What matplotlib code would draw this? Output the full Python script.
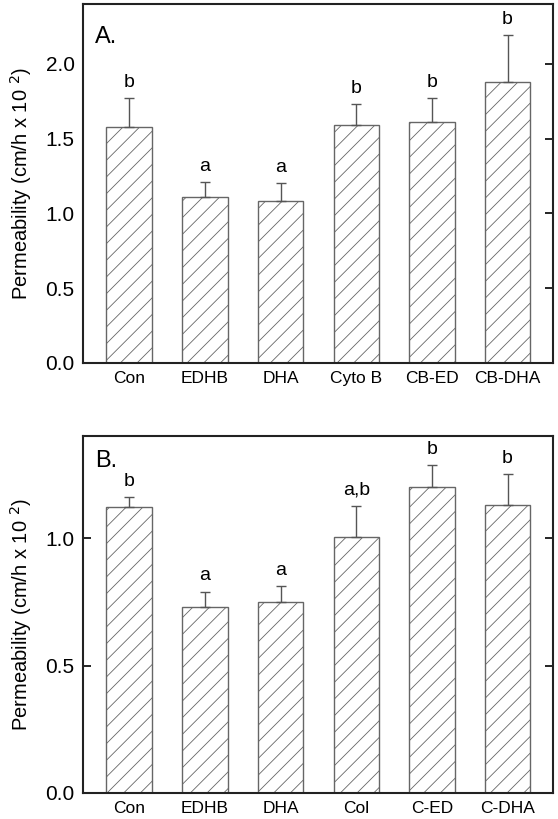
import matplotlib.pyplot as plt
import numpy as np

plt.rcParams['font.family'] = ['Liberation Sans', 'DejaVu Sans']
plt.rcParams['hatch.linewidth'] = 0.6
plt.rcParams['hatch.color'] = '#222222'

# Panel A data
labels_a = ["Con", "EDHB", "DHA", "Cyto B", "CB-ED", "CB-DHA"]
means_a = [1.58, 1.11, 1.08, 1.59, 1.61, 1.88]
errs_a = [0.19, 0.10, 0.12, 0.14, 0.16, 0.31]
letters_a = ["b", "a", "a", "b", "b", "b"]

# Panel B data
labels_b = ["Con", "EDHB", "DHA", "Col", "C-ED", "C-DHA"]
means_b = [1.12, 0.73, 0.75, 1.005, 1.20, 1.13]
errs_b = [0.04, 0.06, 0.06, 0.12, 0.085, 0.12]
letters_b = ["b", "a", "a", "a,b", "b", "b"]

fig = plt.figure(figsize=(5.58, 8.19), dpi=100)
W, H = 558, 819


def make_axes(left, top, right, bottom):
    return fig.add_axes([left / W, 1 - bottom / H, (right - left) / W, (bottom - top) / H])


def draw_panel(ax, labels, means, errs, letters, ymax, yticks, tag, tag_y, left_ticks, pad):
    x = np.arange(len(labels))
    ax.bar(x, means, width=0.6, color='white', edgecolor='#666666', linewidth=1.0,
           hatch='//', zorder=2)
    ax.errorbar(x, means, yerr=[np.zeros(len(errs)), errs], fmt='none', ecolor='#555555',
                elinewidth=1.0, capsize=3.5, capthick=1.0, zorder=3)
    for xi, m, e, t in zip(x, means, errs, letters):
        ax.text(xi, m + e + pad, t, ha='center', va='bottom', fontsize=14)
    ax.set_xlim(-0.61, 5.6)
    ax.set_ylim(0, ymax)
    ax.set_yticks(yticks)
    ax.set_yticklabels([f"{v:.1f}" for v in yticks], fontsize=15)
    ax.set_xticks(x)
    ax.set_xticklabels(labels, fontsize=12.5)
    ax.tick_params(axis='x', length=0, pad=6)
    ax.tick_params(axis='y', direction='in', length=6, width=1.2,
                   left=left_ticks, right=True, pad=6)
    for sp in ax.spines.values():
        sp.set_linewidth(1.5)
        sp.set_color('#222222')
    ax.set_ylabel("Permeability (cm/h x 10 $^{2}$)", fontsize=14.5, labelpad=8)
    ax.text(0.025, tag_y, tag, transform=ax.transAxes, fontsize=17, ha='left', va='top')


ax_a = make_axes(83, 4, 553, 363)
draw_panel(ax_a, labels_a, means_a, errs_a, letters_a, 2.4, [0.0, 0.5, 1.0, 1.5, 2.0], "A.",
           0.94, False, 0.05)

ax_b = make_axes(83, 436, 553, 793)
draw_panel(ax_b, labels_b, means_b, errs_b, letters_b, 1.4, [0.0, 0.5, 1.0], "B.",
           0.96, True, 0.03)

fig.savefig("out.png", dpi=100)
